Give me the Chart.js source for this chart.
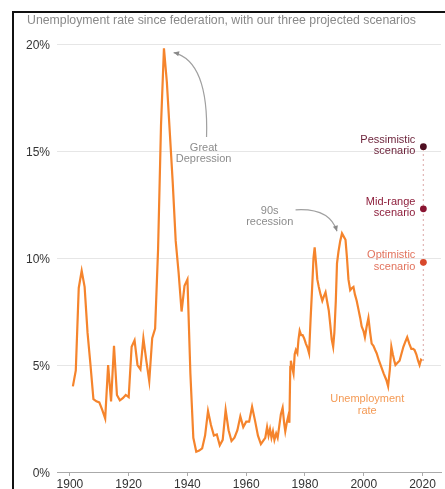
<!DOCTYPE html>
<html>
<head>
<meta charset="utf-8">
<script src="https://cdn.jsdelivr.net/npm/chart.js@4/dist/chart.umd.min.js"></script>
<style>
  html, body { margin: 0; padding: 0; background: #fff; }
  #wrap { position: relative; width: 445px; height: 489px; }
</style>
</head>
<body>
<div id="wrap"><canvas id="c"></canvas></div>
<script>
// Annual unemployment rate (%), 1901-1966
const annualYears = [
  1901,1902,1903,1904,1905,1906,1907,1908,1909,1910,
  1911,1912,1913,1914,1915,1916,1917,1918,1919,1920,
  1921,1922,1923,1924,1925,1926,1927,1928,1929,1930,
  1931,1932,1933,1934,1935,1936,1937,1938,1939,1940,
  1941,1942,1943,1944,1945,1946,1947,1948,1949,1950,
  1951,1952,1953,1954,1955,1956,1957,1958,1959,1960,
  1961,1962,1963,1964,1965,1966
];
const annualRates = [
  4.0,4.75,8.6,9.4,8.65,6.5,5.0,3.4,3.3,3.25,
  2.9,2.5,5.0,3.3,5.9,3.6,3.35,3.45,3.6,3.5,
  5.85,6.15,5.0,4.8,6.25,5.2,4.25,6.25,6.7,10.4,
  16.2,19.8,18.2,15.85,13.5,10.8,9.3,7.5,8.7,9.0,
  4.6,1.6,0.95,1.0,1.1,1.7,2.85,2.2,1.7,1.75,
  1.25,1.5,2.9,1.95,1.45,1.6,1.95,2.6,2.1,2.35,
  2.35,3.05,2.4,1.7,1.3,1.5
];

// Sub-annual readings from 1966 onwards
const recentYears = [
  1966.5,1967.1,1967.6,1968.1,1968.6,1969.1,1969.6,1970.2,1970.7,1971.2,
  1971.8,1972.4,1972.9,1973.3,1973.8,1974.3,1974.7,1975.0,1975.2,1975.6,
  1976.1,1976.5,1976.9,1977.4,1977.8,1978.2,1978.7,1979.2,1979.7,1980.3,
  1980.9,1981.4,1981.9,1982.4,1982.9,1983.3,1983.8,1984.2,1984.7,1985.3,
  1985.9,1986.4,1987.0,1987.5,1988.1,1988.6,1989.1,1989.6,1990.0,1990.5,
  1990.9,1991.4,1992.0,1992.6,1993.2,1993.8,1994.3,1994.8,1995.4,1996.0,
  1996.5,1997.0,1997.6,1998.2,1998.8,1999.3,1999.9,2000.4,2001.0,2001.6,
  2002.2,2002.7,2003.3,2003.9,2004.4,2005.2,2006.0,2006.8,2007.7,2008.3,
  2008.9,2009.4,2009.9,2010.4,2010.8,2011.5,2012.2,2012.8,2013.5,2014.2,
  2014.8,2015.5,2016.2,2016.8,2017.3,2017.9,2018.5,2019.0,2019.5,2019.9
];
const recentRates = [
  1.6,2.1,1.7,2.0,1.6,1.9,1.5,1.8,1.6,2.1,
  2.7,3.0,2.3,1.9,2.3,2.6,2.3,4.9,5.2,4.9,
  4.6,5.5,5.7,5.55,6.2,6.6,6.4,6.4,6.25,6.0,
  5.8,5.55,7.1,8.5,10.0,10.5,9.7,9.0,8.65,8.3,
  8.0,8.2,8.4,8.0,7.55,6.9,6.2,5.85,6.5,8.0,
  9.75,10.3,10.8,11.15,11.0,10.85,10.0,9.0,8.5,8.6,
  8.65,8.3,8.0,7.6,7.2,6.8,6.6,6.3,6.8,7.2,
  6.5,6.0,5.9,5.7,5.55,5.2,4.9,4.6,4.3,4.0,
  4.8,5.85,5.5,5.2,5.0,5.1,5.2,5.5,5.85,6.1,
  6.3,6.0,5.75,5.75,5.7,5.5,5.2,5.0,5.25,5.2
];

// Projected scenarios
const scenarioNames = ['Pessimistic', 'Mid-range', 'Optimistic'];
const scenarioRates = [15.2, 12.3, 9.8];
const scenarioYear = 2020.3;

const yTicks = [0, 5, 10, 15, 20];
const xTicks = [1900, 1920, 1940, 1960, 1980, 2000, 2020];

const scenarioDotColors = ['#4f0f22', '#8a1431', '#d8482c'];
const scenarioTextColors = ['#6a1f37', '#8e1f3c', '#e2735d'];

const lineData = annualYears.map((y, i) => ({ x: y, y: annualRates[i] }))
  .concat(recentYears.map((y, i) => ({ x: y, y: recentRates[i] })));
const lastRate = recentRates[recentRates.length - 1];

const FONT = '"Liberation Sans", Arial, Helvetica, sans-serif';

const decorations = {
  id: 'decorations',
  afterDraw(chart) {
    const { ctx, scales: { x, y } } = chart;
    const P = (yr, v) => [x.getPixelForValue(yr), y.getPixelForValue(v)];
    ctx.save();

    // frame
    ctx.fillStyle = '#111';
    ctx.fillRect(12, 11, 2, 478);
    ctx.fillRect(12, 11, 433, 2);

    // title
    ctx.fillStyle = '#8a8a8a';
    ctx.font = '12.3px ' + FONT;
    ctx.textAlign = 'left';
    ctx.textBaseline = 'middle';
    ctx.fillText('Unemployment rate since federation, with our three projected scenarios', 27, 21);

    // curved pointer with a small arrowhead
    function arrow(p0, c, p1) {
      ctx.strokeStyle = '#a0a0a0';
      ctx.lineWidth = 1.2;
      ctx.beginPath();
      ctx.moveTo(p0[0], p0[1]);
      ctx.quadraticCurveTo(c[0], c[1], p1[0], p1[1]);
      ctx.stroke();
      const ang = Math.atan2(p1[1] - c[1], p1[0] - c[0]);
      ctx.fillStyle = '#8a8a8a';
      ctx.beginPath();
      ctx.moveTo(p1[0], p1[1]);
      ctx.lineTo(p1[0] - 6 * Math.cos(ang - 0.45), p1[1] - 6 * Math.sin(ang - 0.45));
      ctx.lineTo(p1[0] - 6 * Math.cos(ang + 0.45), p1[1] - 6 * Math.sin(ang + 0.45));
      ctx.closePath();
      ctx.fill();
    }

    ctx.font = '11px ' + FONT;
    ctx.textAlign = 'center';
    ctx.fillStyle = '#8c8c8c';
    let p = P(1945.5, 15.15);
    ctx.fillText('Great', p[0], p[1]);
    ctx.fillText('Depression', p[0], p[1] + 11);
    arrow(P(1946.5, 15.65), P(1947.3, 19.2), P(1935.3, 19.6));

    ctx.fillStyle = '#8c8c8c';
    p = P(1968, 12.2);
    ctx.fillText('90s', p[0], p[1]);
    ctx.fillText('recession', p[0], p[1] + 11);
    arrow(P(1976.8, 12.25), P(1988.4, 12.35), P(1990.9, 11.25));

    ctx.fillStyle = '#f49a55';
    p = P(2001.2, 3.43);
    ctx.fillText('Unemployment', p[0], p[1]);
    ctx.fillText('rate', p[0], p[1] + 12);

    // scenario labels
    ctx.textAlign = 'right';
    scenarioNames.forEach((name, i) => {
      const q = P(scenarioYear, scenarioRates[i]);
      ctx.fillStyle = scenarioTextColors[i];
      ctx.fillText(name, q[0] - 8, q[1] - 7);
      ctx.fillText('scenario', q[0] - 8, q[1] + 4.5);
    });

    ctx.restore();
  }
};

new Chart(document.getElementById('c'), {
  type: 'line',
  data: {
    datasets: [
      {
        label: 'Unemployment rate',
        data: lineData,
        borderColor: '#f5842c',
        borderWidth: 2.2,
        pointRadius: 0,
        tension: 0,
        order: 2
      },
      {
        label: 'Scenario range',
        data: [{ x: scenarioYear, y: lastRate }, { x: scenarioYear, y: Math.max(...scenarioRates) }],
        borderColor: '#d9a3a3',
        borderWidth: 1.3,
        borderDash: [1.5, 3.5],
        pointRadius: 0,
        order: 1
      },
      {
        type: 'scatter',
        label: 'Scenarios',
        data: scenarioRates.map(v => ({ x: scenarioYear, y: v })),
        pointRadius: 3.4,
        pointBackgroundColor: scenarioDotColors,
        pointBorderWidth: 0,
        order: 0
      }
    ]
  },
  options: {
    responsive: true,
    maintainAspectRatio: false,
    animation: false,
    layout: { padding: { top: 44, left: 0, right: 0, bottom: 0 } },
    plugins: { legend: { display: false }, tooltip: { enabled: false }, title: { display: false } },
    scales: {
      x: {
        type: 'linear',
        min: 1895.6,
        max: 2026.3,
        afterFit(s) { s.height = 17; },
        afterBuildTicks(s) { s.ticks = xTicks.map(v => ({ value: v })); },
        grid: { drawOnChartArea: false, drawTicks: true, tickLength: 4, color: '#aaaaaa' },
        border: { display: true, color: '#aaaaaa', width: 1 },
        ticks: {
          autoSkip: false, maxRotation: 0, padding: 1,
          color: '#333', font: { family: FONT, size: 12 },
          callback: v => String(v)
        }
      },
      y: {
        min: 0,
        max: 20,
        afterFit(s) { s.width = 57; },
        afterBuildTicks(s) { s.ticks = yTicks.map(v => ({ value: v })); },
        grid: { drawTicks: false, color: '#e6e6e6', lineWidth: 1 },
        border: { display: false },
        ticks: {
          padding: 7, labelOffset: 2,
          color: '#333', font: { family: FONT, size: 12 },
          callback: v => v + '%'
        }
      }
    }
  },
  plugins: [decorations]
});
</script>
</body>
</html>
